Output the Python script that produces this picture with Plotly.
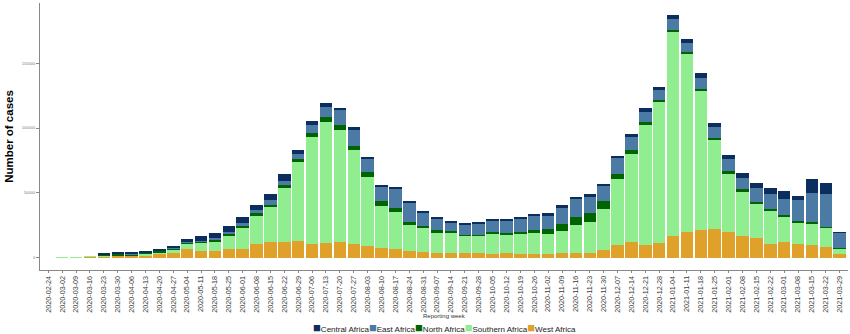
import datetime as dt
import plotly.graph_objects as go

# ---- data (cases per reporting week) ----
start = dt.date(2020, 2, 24)
weeks = [(start + dt.timedelta(days=7 * i)).isoformat() for i in range(58)]

west_africa = [0, 0, 50, 1000, 1300, 1500, 1500, 1800, 3000, 4100,
               6900, 5600, 5600, 6700, 7200, 10300, 12000, 12600, 13100, 10800,
               11800, 12600, 10500, 9000, 7400, 7200, 5400, 4900, 4100, 3800,
               3600, 3600, 3300, 3600, 2800, 3300, 3300, 3800, 3800, 3800,
               6200, 9700, 12300, 10200, 11300, 16900, 19700, 21500, 22100, 19700,
               17200, 15100, 11000, 12600, 10500, 10000, 8700, 2800]
southern_africa = [0, 50, 150, 300, 500, 500, 500, 1300, 1300, 2500,
                   3800, 5900, 7200, 10500, 16400, 22600, 27700, 41800, 60800, 82000,
                   92600, 85600, 72300, 53100, 32800, 28200, 20000, 17900, 15400, 15400,
                   13300, 13300, 15400, 14600, 15900, 16200, 14900, 16900, 21300, 24100,
                   31500, 51000, 67400, 91800, 108500, 157200, 137200, 107400, 68700, 45600,
                   34100, 26900, 25600, 19000, 16700, 16400, 14400, 4100]
north_africa = [0, 0, 0, 0, 800, 1000, 800, 800, 1000, 800,
                1300, 1000, 1000, 1000, 1000, 1300, 1300, 1500, 2300, 3300,
                3800, 4400, 3600, 3800, 3300, 2800, 2300, 2000, 1800, 1500,
                800, 1000, 1000, 1000, 1300, 1800, 3800, 5100, 6700, 6900,
                6200, 3800, 3100, 2600, 1800, 1500, 1800, 1500, 1800, 1500,
                1500, 1300, 1300, 1300, 1300, 1300, 800, 500]
east_africa = [0, 0, 0, 0, 100, 200, 200, 300, 500, 500,
               500, 800, 1300, 2000, 2300, 2300, 3300, 3600, 4100, 5900,
               8200, 11300, 12800, 10800, 11800, 15100, 14900, 10300, 8700, 6900,
               7700, 8700, 9000, 9500, 10000, 11000, 11000, 13300, 13800, 12800,
               11800, 12800, 10800, 7700, 7400, 8200, 6900, 8200, 8500, 9200,
               9000, 10500, 11500, 12800, 16200, 22100, 25600, 12100]
central_africa = [0, 0, 0, 0, 500, 1000, 1000, 1300, 800, 1500,
                  1800, 3300, 4400, 4400, 4600, 4600, 5100, 5100, 3100, 3100,
                  2800, 1500, 1300, 1300, 1000, 800, 1300, 1000, 1000, 1000,
                  800, 800, 800, 800, 1000, 1300, 1300, 1300, 1300, 1300,
                  1500, 1500, 1500, 3000, 2800, 3100, 3300, 3800, 2600, 3300,
                  3600, 3600, 4100, 5900, 2600, 11300, 8500, 300]

y_ticks = [0, 50000, 100000, 150000]

# stacking order bottom -> top
series = [
    ("West Africa", west_africa, "#E0A12A"),
    ("Southern Africa", southern_africa, "#90EE90"),
    ("North Africa", north_africa, "#006400"),
    ("East Africa", east_africa, "#4B7BA4"),
    ("Central Africa", central_africa, "#0B2E5E"),
]

fig = go.Figure()
for name, vals, col in series:
    fig.add_trace(go.Bar(
        x=weeks, y=vals, name=name,
        marker=dict(color=col, line=dict(width=0)),
    ))

sans = "Liberation Sans, Arial, sans-serif"

# compact ggplot-style legend: coloured square glyph directly followed by label
legend_text = "".join(
    f'<span style="color:{col};font-size:13px">■</span>{name}'
    for name, _, col in reversed(series)
)
fig.add_annotation(
    text=legend_text, xref="paper", yref="paper", x=0.5, y=-0.216,
    xanchor="center", yanchor="middle", showarrow=False,
    font=dict(family=sans, size=8, color="#222"),
)
# x-axis title (placed like ggplot's, just under the rotated labels)
fig.add_annotation(
    text="Reporting week", xref="paper", yref="paper", x=0.5, y=-0.173,
    xanchor="center", yanchor="middle", showarrow=False,
    font=dict(family=sans, size=6, color="#333"),
)

fig.update_layout(
    width=850, height=334,
    margin=dict(l=40, r=2, t=3, b=64),
    barmode="stack", bargap=0.1,
    plot_bgcolor="white", paper_bgcolor="white",
    showlegend=False,
    xaxis=dict(
        type="category", range=[-0.6, 57.6], automargin=False,
        tickangle=-90, tickfont=dict(family=sans, size=7.2, color="#3a3a3a"),
        showline=True, linecolor="#888", linewidth=1,
        ticks="outside", ticklen=2, tickcolor="#888",
        showgrid=False,
    ),
    yaxis=dict(
        range=[-9350, 196300], automargin=False,
        tickvals=y_ticks, ticktext=[str(v) for v in y_ticks],
        tickfont=dict(family=sans, size=4, color="#777"),
        showline=True, linecolor="#888", linewidth=1,
        ticks="outside", ticklen=3, tickcolor="#888",
        showgrid=False, zeroline=False,
        title=dict(text="<b>Number of cases</b>", standoff=5,
                   font=dict(family=sans, size=11.5, color="#000")),
    ),
)

fig.write_html("out.html")
